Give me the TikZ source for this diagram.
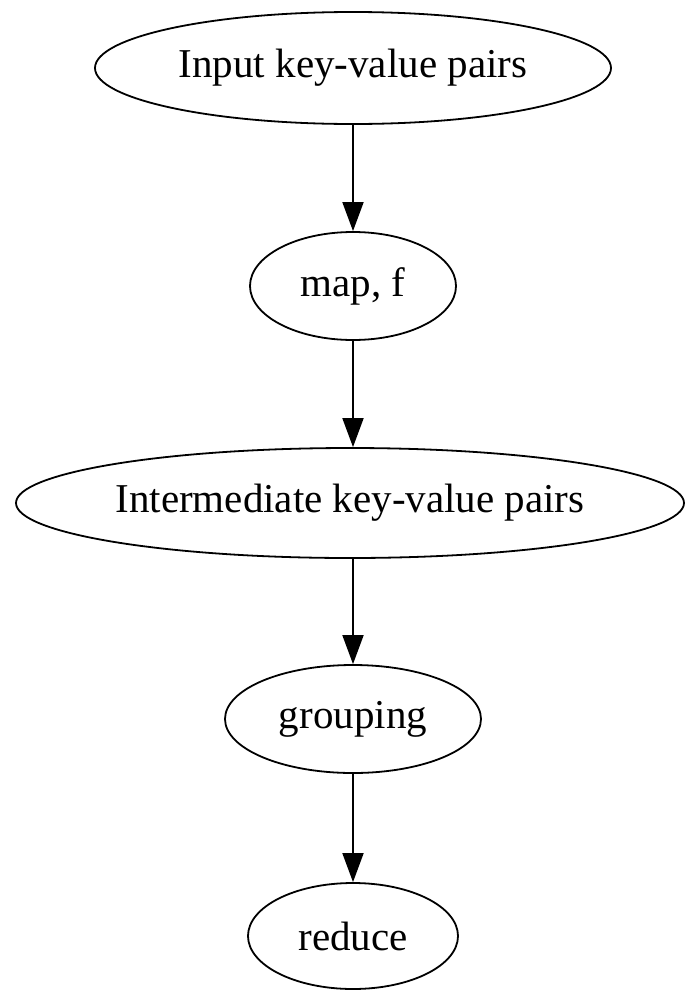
\documentclass[tikz,border=0pt]{standalone}
\usepackage{fontspec}
\setmainfont{Liberation Serif}
\usetikzlibrary{shapes.geometric,arrows.meta}
\begin{document}
\begin{tikzpicture}[x=1pt,y=-1pt,
  gnode/.style={draw,ellipse,line width=1.8pt,inner sep=0pt,
    font=\fontsize{41}{49}\selectfont},
  garrow/.style={line width=1.8pt,-{Triangle[length=29pt,width=21pt]}}]
\useasboundingbox (0,0) rectangle (686,991);
\node[gnode,minimum width=516pt,minimum height=112pt] (in) at (353,68) {Input key-value pairs};
\node[gnode,minimum width=206pt,minimum height=108pt] (map) at (353,286) {map, f};
\node[gnode,minimum width=668pt,minimum height=110pt] (mid) at (350,503) {Intermediate key-value pairs};
\node[gnode,minimum width=256pt,minimum height=108pt] (grp) at (353,719) {grouping};
\node[gnode,minimum width=210pt,minimum height=106pt] (red) at (353,936) {reduce};
\draw[garrow] (in.south) -- (map.north);
\draw[garrow] (map.south) -- (map.south |- mid.north);
\draw[garrow] (map.south |- mid.south) -- (grp.north);
\draw[garrow] (grp.south) -- (red.north);
\end{tikzpicture}
\end{document}
